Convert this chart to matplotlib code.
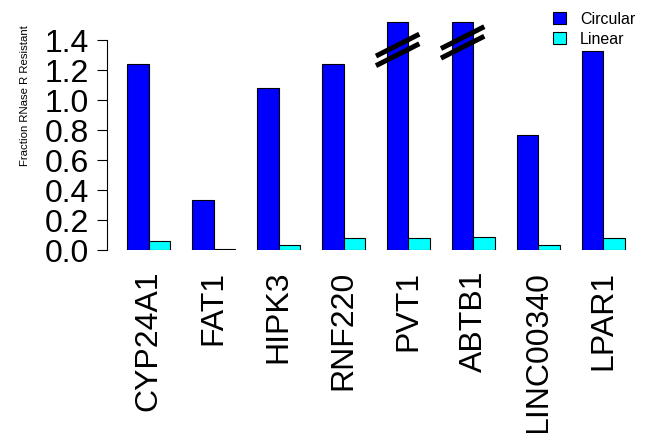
import matplotlib

matplotlib.use("Agg")
import matplotlib.pyplot as plt
import numpy as np

genes = ["CYP24A1", "FAT1", "HIPK3", "RNF220", "PVT1", "ABTB1", "LINC00340", "LPAR1"]
circular = [1.24, 0.333, 1.08, 1.24, 1.518, 1.518, 0.767, 1.33]
linear = [0.06, 0.01, 0.033, 0.08, 0.08, 0.087, 0.033, 0.08]
# bars cut with a break mark (height of the mark's centre)
broken = {"PVT1": 1.334, "ABTB1": 1.384}

plt.rcParams["font.family"] = ["Liberation Sans", "DejaVu Sans"]

fig = plt.figure(figsize=(6.45, 4.33), dpi=100)
ax = fig.add_axes([107 / 645, (433 - 250) / 433, 538 / 645, 240 / 433])

# R barplot layout: bar width 1, groups separated by one bar width
x_circ = 1 + 3 * np.arange(len(genes))
x_lin = x_circ + 1
ax.bar(x_circ, circular, width=1, align="edge", color="#0000ff", edgecolor="black", linewidth=0.8)
ax.bar(x_lin, linear, width=1, align="edge", color="#00ffff", edgecolor="black", linewidth=0.8)

# break marks
for g, yc in broken.items():
    i = genes.index(g)
    xc = x_circ[i] + 0.5
    for dy in (-0.032, 0.032):
        ax.plot([xc - 1.0, xc + 1.0], [yc + dy - 0.073, yc + dy + 0.073],
                color="black", lw=3.6, solid_capstyle="butt")

ax.set_xlim(0.08, 24.92)
ax.set_ylim(0, 1.6)

ax.set_xticks(x_lin)
ax.set_xticklabels(genes, rotation=90, fontsize=23)
ax.tick_params(axis="x", length=0, pad=15)

ax.set_yticks(np.arange(0, 1.41, 0.2))
ax.set_yticklabels(["%.1f" % v for v in np.arange(0, 1.41, 0.2)], fontsize=23)
ax.tick_params(axis="y", length=7, width=0.8, pad=6)
fig.text(25 / 645, 1 - 96 / 433, "Fraction RNase R Resistant", fontsize=8.2,
         rotation=90, ha="center", va="center")

for s in ["top", "right", "bottom"]:
    ax.spines[s].set_visible(False)
ax.spines["left"].set_bounds(0, 1.4)
ax.spines["left"].set_linewidth(0.8)

h1 = plt.Rectangle((0, 0), 1, 1, facecolor="#0000ff", edgecolor="black", linewidth=0.8)
h2 = plt.Rectangle((0, 0), 1, 1, facecolor="#00ffff", edgecolor="black", linewidth=0.8)
fig.legend([h1, h2], ["Circular", "Linear"], loc="upper right", bbox_to_anchor=(1.0, 0.995),
           frameon=False, fontsize=11.5, handlelength=0.8, handleheight=0.8,
           handletextpad=0.9, labelspacing=0.3, borderaxespad=0.2)

fig.savefig("out.png", dpi=100)
